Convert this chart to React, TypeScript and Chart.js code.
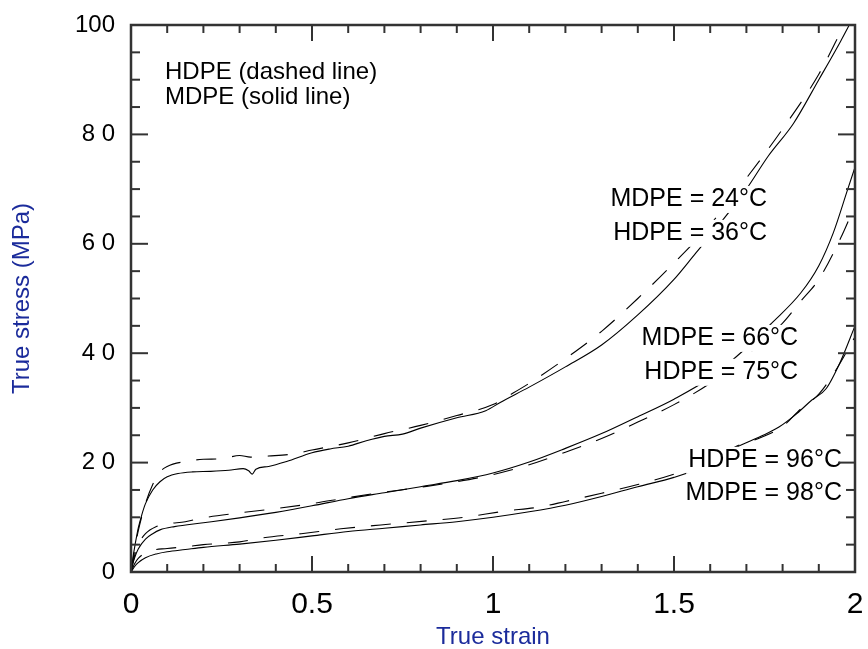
import React, { useEffect, useRef } from "react";
import { Chart, registerables } from "chart.js";
Chart.register(...registerables);

// ---- Data (true strain / true stress, MPa) ----
const mdpe24Strain = [0, 0.005, 0.01, 0.02, 0.03, 0.04, 0.06, 0.08, 0.1, 0.13, 0.17, 0.22, 0.27, 0.31, 0.325, 0.335, 0.345, 0.38, 0.43, 0.5, 0.55, 0.6, 0.65, 0.7, 0.75, 0.8, 0.9, 0.98, 1.02, 1.1, 1.2, 1.3, 1.4, 1.5, 1.56, 1.6, 1.7, 1.76, 1.83, 1.9, 1.96, 2.0];
const mdpe24Stress = [0, 2.5, 4.5, 8, 10.5, 12.5, 15, 16.5, 17.4, 18, 18.3, 18.4, 18.6, 18.9, 18.5, 17.9, 18.8, 19.3, 20.2, 21.8, 22.5, 23, 24, 24.8, 25.2, 26.3, 28.2, 29.5, 31, 33.8, 37.5, 41.5, 47, 53.5, 58.3, 61.5, 70, 76, 82, 90, 97, 102];

const hdpe36Strain = [0, 0.01, 0.02, 0.04, 0.06, 0.08, 0.1, 0.15, 0.2, 0.25, 0.3, 0.33, 0.38, 0.45, 0.5, 0.6, 0.7, 0.8, 0.9, 1.0, 1.05, 1.1, 1.2, 1.3, 1.4, 1.5, 1.6, 1.7, 1.8, 1.9, 1.97];
const hdpe36Stress = [0, 4, 7.5, 12.5, 16, 18.3, 19.3, 20.2, 20.6, 20.7, 21.3, 21.0, 21.2, 21.6, 22.3, 23.6, 25.3, 26.8, 28.6, 30.6, 32.5, 34.5, 39, 44, 50, 56.5, 63.5, 72, 81, 91, 100];

const mdpe66Strain = [0, 0.005, 0.01, 0.02, 0.04, 0.06, 0.08, 0.12, 0.2, 0.3, 0.4, 0.5, 0.6, 0.7, 0.8, 0.9, 1.0, 1.1, 1.2, 1.3, 1.4, 1.5, 1.6, 1.7, 1.77, 1.85, 1.9, 1.94, 1.98, 2.0];
const mdpe66Stress = [0, 1.5, 2.6, 4.2, 6, 7, 7.7, 8.3, 9, 9.9, 10.9, 12.1, 13.4, 14.5, 15.6, 16.7, 18.1, 20.1, 22.6, 25.3, 28.4, 31.6, 35.5, 41, 45.5, 51, 56, 62, 70, 74];

const hdpe75Strain = [0, 0.01, 0.02, 0.04, 0.07, 0.1, 0.15, 0.2, 0.3, 0.4, 0.5, 0.6, 0.7, 0.8, 0.9, 1.0, 1.1, 1.2, 1.3, 1.4, 1.5, 1.6, 1.7, 1.8, 1.85, 1.9, 1.96, 2.0];
const hdpe75Stress = [0, 3, 5, 7, 8.3, 8.8, 9.2, 9.9, 10.8, 11.6, 12.5, 13.6, 14.6, 15.5, 16.5, 17.8, 19.6, 21.9, 24.4, 27.4, 30.6, 34.5, 39.5, 45.5, 49.5, 53.5, 61, 67];

const mdpe98Strain = [0, 0.01, 0.02, 0.04, 0.07, 0.1, 0.15, 0.2, 0.3, 0.4, 0.5, 0.6, 0.7, 0.8, 0.9, 1.0, 1.1, 1.2, 1.3, 1.4, 1.5, 1.6, 1.67, 1.74, 1.79, 1.84, 1.88, 1.92, 1.96, 2.0];
const mdpe98Stress = [0, 1, 1.7, 2.6, 3.3, 3.7, 4.1, 4.5, 5.1, 5.8, 6.6, 7.4, 8.0, 8.6, 9.2, 10.0, 11.0, 12.2, 13.8, 15.6, 17.3, 19.8, 22.7, 24.8, 26.5, 29, 31.4, 33.5, 38.5, 45];

const hdpe96Strain = [0, 0.01, 0.02, 0.05, 0.1, 0.15, 0.2, 0.3, 0.36, 0.47, 0.58, 0.69, 0.81, 0.92, 1.03, 1.13, 1.2, 1.3, 1.4, 1.5, 1.6, 1.67, 1.74, 1.8, 1.85, 1.9, 1.95, 2.0];
const hdpe96Stress = [0, 1.5, 2.5, 3.8, 4.3, 4.6, 5.0, 5.5, 6.2, 7.0, 7.9, 8.6, 9.3, 10.0, 11.1, 11.9, 12.9, 14.4, 16.0, 17.9, 20.3, 22.9, 24.6, 26.6, 29.8, 32.5, 37.2, 43];

const xTickValues = [0, 0.5, 1, 1.5, 2];
const xTickLabels = ["0", "0.5", "1", "1.5", "2"];
const yTickValues = [0, 20, 40, 60, 80, 100];
const yTickLabels = ["0", "2 0", "4 0", "6 0", "8 0", "100"];

const xTitle = "True strain";
const yTitle = "True stress (MPa)";

// Text annotations (anchored in data units)
const noteTexts = ["HDPE (dashed line)", "MDPE (solid line)", "MDPE = 24°C", "HDPE = 36°C", "MDPE = 66°C", "HDPE = 75°C", "HDPE = 96°C", "MDPE = 98°C"];
const noteStrain = [0.094, 0.094, 1.757, 1.757, 1.843, 1.843, 1.964, 1.964];
const noteStress = [91.4, 86.8, 68.2, 62.0, 42.8, 36.6, 20.5, 14.4];
const noteAlign: CanvasTextAlign[] = ["left", "left", "right", "right", "right", "right", "right", "right"];

const FONT = '"Liberation Sans", Arial, Helvetica, sans-serif';
const TITLE_COLOR = "#1b2b9b";

const pts = (xs: number[], ys: number[]) => xs.map((x, i) => ({ x, y: ys[i] }));

export default function App() {
  const ref = useRef<HTMLCanvasElement>(null);
  useEffect(() => {
    document.body.style.margin = "0";
    const canvas = ref.current!;

    const notesPlugin = {
      id: "notes",
      afterDatasetsDraw(chart: any) {
        const { ctx, scales } = chart;
        ctx.save();
        noteTexts.forEach((t, i) => {
          const fs = i < 2 ? 24 : 25;
          ctx.font = `${fs}px ${FONT}`;
          const w = ctx.measureText(t).width;
          const px = scales.x.getPixelForValue(noteStrain[i]);
          const py = scales.y.getPixelForValue(noteStress[i]);
          const left = noteAlign[i] === "left" ? px : px - w;
          if (i >= 2) {
            ctx.fillStyle = "#fff";
            ctx.fillRect(left - 2, py - 13, w + 4, 27);
          }
          ctx.fillStyle = "#000";
          ctx.textAlign = noteAlign[i];
          ctx.textBaseline = "middle";
          ctx.fillText(t, px, py);
        });
        ctx.restore();
      },
    };

    const framePlugin = {
      id: "frame",
      afterDraw(chart: any) {
        const { ctx, chartArea: a, scales } = chart;
        const xs = scales.x, ys = scales.y;
        ctx.save();
        ctx.strokeStyle = "#333";
        ctx.lineWidth = 2;
        const seg = (x1: number, y1: number, x2: number, y2: number) => {
          ctx.beginPath(); ctx.moveTo(x1, y1); ctx.lineTo(x2, y2); ctx.stroke();
        };
        for (let k = 0; k <= 20; k++) {
          const px = xs.getPixelForValue(k / 10);
          const len = k % 5 === 0 ? 16 : 8;
          seg(px, a.bottom, px, a.bottom - len);
          seg(px, a.top, px, a.top + len);
        }
        for (let k = 0; k <= 20; k++) {
          const py = ys.getPixelForValue(k * 5);
          const len = k % 4 === 0 ? 17 : 9;
          seg(a.left, py, a.left + len, py);
          seg(a.right, py, a.right - len, py);
        }
        ctx.lineWidth = 2.5;
        ctx.strokeRect(a.left, a.top, a.right - a.left, a.bottom - a.top);
        ctx.restore();
      },
    };

    const solid = (data: any[]) => ({
      data, borderColor: "#000", borderWidth: 1.1, pointRadius: 0, fill: false,
      cubicInterpolationMode: "monotone" as const,
    });
    const dashed = (data: any[]) => ({ ...solid(data), borderDash: [20, 16] });

    const chart = new Chart(canvas, {
      type: "line",
      data: {
        datasets: [
          solid(pts(mdpe24Strain, mdpe24Stress)),
          dashed(pts(hdpe36Strain, hdpe36Stress)),
          solid(pts(mdpe66Strain, mdpe66Stress)),
          dashed(pts(hdpe75Strain, hdpe75Stress)),
          solid(pts(mdpe98Strain, mdpe98Stress)),
          dashed(pts(hdpe96Strain, hdpe96Stress)),
        ],
      },
      options: {
        animation: false,
        responsive: false,
        parsing: false as any,
        layout: { padding: { top: 25, right: 13, left: 0, bottom: 0 } },
        plugins: { legend: { display: false }, tooltip: { enabled: false } },
        scales: {
          x: {
            type: "linear", min: 0, max: 2,
            afterBuildTicks: (s: any) => { s.ticks = xTickValues.map((v) => ({ value: v })); },
            afterFit: (s: any) => { s.height = 77; s.paddingLeft = 0; s.paddingRight = 0; },
            grid: { display: false, drawTicks: false },
            border: { display: false },
            ticks: {
              font: { family: FONT, size: 30 }, color: "#000", padding: 15,
              maxRotation: 0, autoSkip: false,
              callback: (v: any) => xTickLabels[xTickValues.indexOf(Number(v))] ?? "",
            },
            title: {
              display: true, text: xTitle, color: TITLE_COLOR,
              font: { family: FONT, size: 24, lineHeight: 1 }, padding: { top: 0, bottom: 0 },
            },
          },
          y: {
            type: "linear", min: 0, max: 100,
            afterBuildTicks: (s: any) => { s.ticks = yTickValues.map((v) => ({ value: v })); },
            afterFit: (s: any) => { s.width = 131; s.paddingTop = 0; s.paddingBottom = 0; },
            grid: { display: false, drawTicks: false },
            border: { display: false },
            ticks: {
              font: { family: FONT, size: 24 }, color: "#000", padding: 16, autoSkip: false,
              callback: (v: any) => yTickLabels[yTickValues.indexOf(Number(v))] ?? "",
            },
            title: {
              display: true, text: yTitle, color: TITLE_COLOR,
              font: { family: FONT, size: 24, lineHeight: 1.2 }, padding: { top: 8, bottom: 0 },
            },
          },
        },
      },
      plugins: [notesPlugin, framePlugin],
    });
    return () => chart.destroy();
  }, []);
  return <canvas ref={ref} width={868} height={649} style={{ display: "block" }} />;
}
